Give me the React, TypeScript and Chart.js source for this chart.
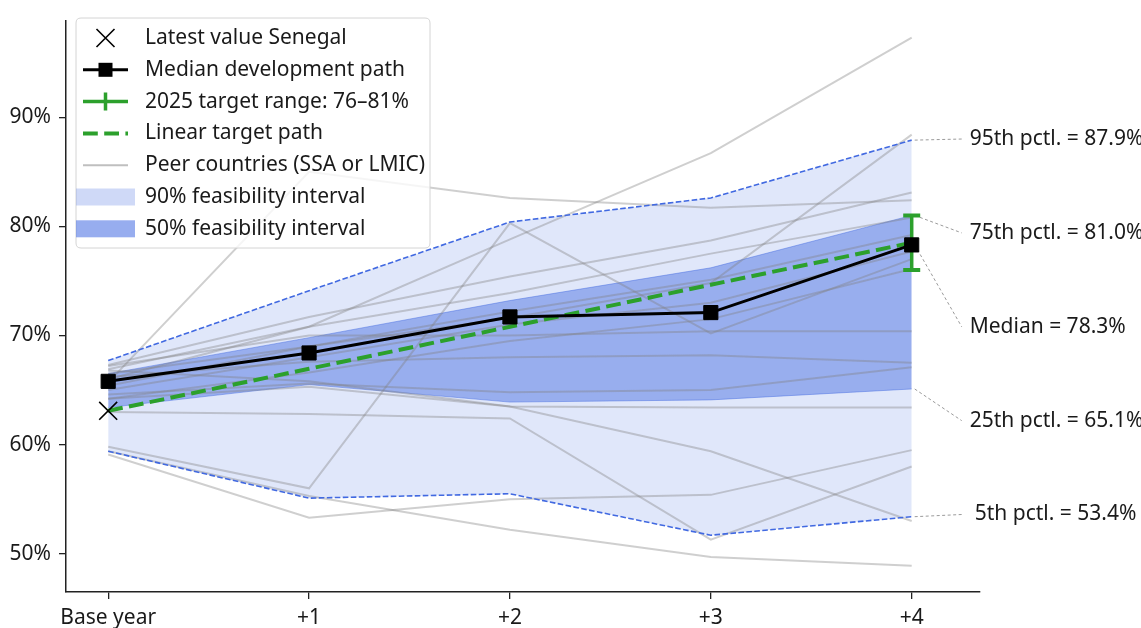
import React, { useEffect, useRef } from "react";
import { Chart, registerables } from "chart.js";

Chart.register(...registerables);

// ---------- data ----------
const xLabels = ["Base year", "+1", "+2", "+3", "+4"];
const yTicks = [50, 60, 70, 80, 90];

const median = [65.8, 68.4, 71.7, 72.1, 78.3];
const p95 = [67.7, 74.1, 80.4, 82.6, 87.9];
const p75 = [66.5, 69.8, 73.2, 76.2, 81.0];
const p25 = [63.4, 65.5, 63.9, 64.1, 65.1];
const p05 = [59.4, 55.1, 55.5, 51.7, 53.4];
const linearTarget = [63.1, 66.95, 70.8, 74.65, 78.5];
const latestValue = 63.1;
const targetRange = [76, 81];

const peerA = [66.0, 70.8, 78.8, 86.7, 97.3];
const peerB = [65.7, 85.0, 82.6, 81.7, 82.4];
const peerC = [59.8, 56.0, 80.3, 70.2, 77.0];
const peerD = [59.1, 53.3, 55.0, 55.4, 59.5];
const peerE = [59.4, 55.3, 52.2, 49.7, 48.9];
const peerF = [63.0, 62.8, 62.4, 51.3, 58.0];
const peerG = [66.8, 65.8, 63.5, 59.4, 53.0];
const peerH = [64.2, 65.3, 63.5, 63.4, 63.4];
const peerI = [67.2, 70.0, 70.0, 70.4, 70.4];
const peerJ = [66.2, 67.6, 68.0, 68.2, 67.5];
const peerK = [64.6, 65.6, 64.8, 65.0, 67.1];
const peerM = [66.5, 69.0, 71.6, 74.8, 88.4];
const peerN = [67.3, 71.7, 75.4, 78.7, 83.1];
const peerO = [66.9, 70.8, 73.9, 77.5, 80.8];
const peerP = [65.4, 69.0, 72.2, 75.1, 79.2];
const peerQ = [65.0, 68.0, 71.0, 73.0, 77.7];
const peerR = [64.2, 66.6, 69.5, 71.5, 76.1];
const peers = [peerA, peerB, peerC, peerD, peerE, peerF, peerG, peerH, peerI, peerJ, peerK, peerM, peerN, peerO, peerP, peerQ, peerR];

const annotationNames = ["95th pctl.", "75th pctl.", "Median", "25th pctl.", "5th pctl."];
const annotationValues = [87.9, 81.0, 78.3, 65.1, 53.4];

const legendLabels = [
  "Latest value Senegal",
  "Median development path",
  "2025 target range: 76\u201381%",
  "Linear target path",
  "Peer countries (SSA or LMIC)",
  "90% feasibility interval",
  "50% feasibility interval",
];

// ---------- styles ----------
const FONT = "'Noto Sans', 'Open Sans', sans-serif";
const FS = 21;
const TEXT = "#1a1a1a";
const BLUE = "rgb(65,105,225)";
const GREEN = "#2ca02c";
const PEER = "rgba(128,128,128,0.38)";
const BAND90 = "rgba(65,105,225,0.16)";
const BAND50 = "rgba(65,105,225,0.45)";
const BAND50_EDGE = "rgba(65,105,225,0.45)";

const X_MIN = -0.21, X_MAX = 4.34;
const Y_MIN = 46.5, Y_MAX = 98.85;

const pts = (arr: number[]) => arr.map((y, i) => ({ x: i, y }));

const leaderPlugin = {
  id: "leaders",
  beforeDatasetsDraw(chart: any) {
    const { ctx, scales } = chart;
    const xs = scales.x;
    const ys = scales.y;
    const px = xs.getPixelForValue(4);
    const top = ys.getPixelForValue(88.0);
    const bottom = ys.getPixelForValue(53.6);
    ctx.save();
    ctx.strokeStyle = "#9a9a9a";
    ctx.lineWidth = 1;
    ctx.setLineDash([3, 2.5]);
    annotationValues.forEach((v, i) => {
      const ly = top + ((bottom - top) * i) / (annotationValues.length - 1);
      ctx.beginPath();
      ctx.moveTo(px + 3, ys.getPixelForValue(v));
      ctx.lineTo(px + 50, ly);
      ctx.stroke();
    });
    ctx.restore();
  },
  afterDraw(chart: any) {
    const { ctx, scales } = chart;
    const xs = scales.x;
    const ys = scales.y;
    const px = xs.getPixelForValue(4);
    const top = ys.getPixelForValue(88.0);
    const bottom = ys.getPixelForValue(53.6);
    ctx.save();
    ctx.font = `${FS}px ${FONT}`;
    ctx.fillStyle = TEXT;
    ctx.textBaseline = "middle";
    ctx.textAlign = "left";
    annotationValues.forEach((v, i) => {
      const ly = top + ((bottom - top) * i) / (annotationValues.length - 1);
      const lx = px + 58 + (i === annotationValues.length - 1 ? 5 : 0);
      ctx.fillText(`${annotationNames[i]} = ${v.toFixed(1)}%`, lx, ly);
    });

    // ---- legend ----
    const bx = 76, by = 18, bw = 354, bh = 230, r = 5;
    ctx.beginPath();
    ctx.moveTo(bx + r, by);
    ctx.lineTo(bx + bw - r, by);
    ctx.quadraticCurveTo(bx + bw, by, bx + bw, by + r);
    ctx.lineTo(bx + bw, by + bh - r);
    ctx.quadraticCurveTo(bx + bw, by + bh, bx + bw - r, by + bh);
    ctx.lineTo(bx + r, by + bh);
    ctx.quadraticCurveTo(bx, by + bh, bx, by + bh - r);
    ctx.lineTo(bx, by + r);
    ctx.quadraticCurveTo(bx, by, bx + r, by);
    ctx.closePath();
    ctx.fillStyle = "rgba(255,255,255,0.8)";
    ctx.fill();
    ctx.strokeStyle = "#d4d4d4";
    ctx.lineWidth = 1;
    ctx.stroke();

    const hx0 = 83, hx1 = 128, hc = (hx0 + hx1) / 2;
    const rowY = (i: number) => by + 20 + i * 31.8;
    legendLabels.forEach((label, i) => {
      const y = rowY(i);
      ctx.save();
      ctx.setLineDash([]);
      if (i === 0) {
        ctx.strokeStyle = "#000";
        ctx.lineWidth = 1.6;
        ctx.beginPath();
        ctx.moveTo(hc - 9, y - 9); ctx.lineTo(hc + 9, y + 9);
        ctx.moveTo(hc + 9, y - 9); ctx.lineTo(hc - 9, y + 9);
        ctx.stroke();
      } else if (i === 1) {
        ctx.strokeStyle = "#000";
        ctx.lineWidth = 3;
        ctx.beginPath(); ctx.moveTo(hx0, y); ctx.lineTo(hx1, y); ctx.stroke();
        ctx.fillStyle = "#000";
        ctx.fillRect(hc - 7, y - 7, 14, 14);
      } else if (i === 2) {
        ctx.strokeStyle = GREEN;
        ctx.lineWidth = 3.5;
        ctx.beginPath(); ctx.moveTo(hx0, y); ctx.lineTo(hx1, y);
        ctx.moveTo(hc, y - 9); ctx.lineTo(hc, y + 9); ctx.stroke();
      } else if (i === 3) {
        ctx.strokeStyle = GREEN;
        ctx.lineWidth = 4;
        ctx.setLineDash([14.8, 6.4]);
        ctx.beginPath(); ctx.moveTo(hx0, y); ctx.lineTo(hx1, y); ctx.stroke();
      } else if (i === 4) {
        ctx.strokeStyle = "rgba(128,128,128,0.5)";
        ctx.lineWidth = 2;
        ctx.beginPath(); ctx.moveTo(hx0, y); ctx.lineTo(hx1, y); ctx.stroke();
      } else if (i === 5) {
        ctx.fillStyle = "rgba(65,105,225,0.25)";
        ctx.fillRect(76, y - 8.5, 59, 17);
      } else if (i === 6) {
        ctx.fillStyle = "rgba(65,105,225,0.55)";
        ctx.fillRect(76, y - 8.5, 59, 17);
      }
      ctx.restore();
      ctx.fillStyle = TEXT;
      ctx.fillText(label, 145, y);
    });
    ctx.restore();
  },
};

export default function App() {
  const ref = useRef<HTMLCanvasElement | null>(null);

  useEffect(() => {
    if (!ref.current) return;
    const datasets: any[] = [];
    datasets.push({
      label: "latest", data: [{ x: 0, y: latestValue }], showLine: false,
      pointStyle: "crossRot", pointRadius: 12.7, pointBorderWidth: 1.6,
      pointBorderColor: "#000", pointBackgroundColor: "#000", order: 0,
    });
    datasets.push({
      label: "median", data: pts(median), borderColor: "#000", borderWidth: 3,
      pointStyle: "rect", pointRadius: 10, pointBackgroundColor: "#000",
      pointBorderColor: "#000", pointBorderWidth: 1, order: 1,
    });
    datasets.push({
      label: "target", data: [{ x: 4, y: targetRange[0] }, { x: 4, y: targetRange[1] }],
      borderColor: GREEN, borderWidth: 3.5, pointStyle: "line", pointRadius: 8.5,
      pointBorderWidth: 4, pointBorderColor: GREEN, order: 2,
    });
    datasets.push({
      label: "linear", data: pts(linearTarget), borderColor: GREEN, borderWidth: 4,
      borderDash: [14.8, 6.4], pointRadius: 0, order: 3,
    });
    datasets.push({
      label: "p95line", data: pts(p95), borderColor: BLUE, borderWidth: 1.6,
      borderDash: [5.6, 2.4], pointRadius: 0, order: 4,
    });
    datasets.push({
      label: "p05line", data: pts(p05), borderColor: BLUE, borderWidth: 1.6,
      borderDash: [5.6, 2.4], pointRadius: 0, order: 4,
    });
    peers.forEach((p, i) => {
      datasets.push({
        label: "peer" + i, data: pts(p), borderColor: PEER, borderWidth: 2,
        pointRadius: 0, order: 5,
      });
    });
    const i95 = datasets.length;
    datasets.push({
      label: "band90top", data: pts(p95), borderWidth: 0, borderColor: "rgba(0,0,0,0)",
      pointRadius: 0, fill: { target: i95 + 1 }, backgroundColor: BAND90, order: 9,
    });
    datasets.push({
      label: "band90bot", data: pts(p05), borderWidth: 0, borderColor: "rgba(0,0,0,0)",
      pointRadius: 0, fill: false, order: 9,
    });
    const i75 = datasets.length;
    datasets.push({
      label: "band50top", data: pts(p75), borderWidth: 1, borderColor: BAND50_EDGE,
      pointRadius: 0, fill: { target: i75 + 1 }, backgroundColor: BAND50, order: 8,
    });
    datasets.push({
      label: "band50bot", data: pts(p25), borderWidth: 1, borderColor: BAND50_EDGE,
      pointRadius: 0, fill: false, order: 8,
    });

    const axisCommon = {
      grid: { display: true, drawOnChartArea: false, drawTicks: true, tickLength: 7, color: "#222", lineWidth: 1.3 },
      border: { display: true, color: "#222", width: 1.5 },
    };

    const chart = new Chart(ref.current, {
      type: "line",
      data: { datasets },
      options: {
        animation: false,
        responsive: false,
        events: [],
        elements: { line: { tension: 0 } },
        layout: { padding: { top: 8, right: 161, left: 0, bottom: 0 } },
        plugins: { legend: { display: false }, tooltip: { enabled: false } },
        scales: {
          x: {
            type: "linear", min: X_MIN, max: X_MAX, bounds: "data",
            afterBuildTicks: (s: any) => {
              s.ticks = xLabels.map((_, i) => ({ value: i }));
              s.min = X_MIN; s.max = X_MAX;
            },
            afterFit: (s: any) => { s.height = 36; s.paddingLeft = 0; s.paddingRight = 0; },
            ticks: {
              autoSkip: false, maxRotation: 0, padding: 6, color: TEXT,
              font: { family: FONT, size: FS },
              callback: (v: any) => xLabels[Math.round(v)] ?? "",
            },
            ...axisCommon,
          },
          y: {
            type: "linear", min: Y_MIN, max: Y_MAX, bounds: "data",
            afterBuildTicks: (s: any) => {
              s.ticks = yTicks.map((v) => ({ value: v }));
              s.min = Y_MIN; s.max = Y_MAX;
            },
            afterFit: (s: any) => { s.width = 66; },
            ticks: {
              padding: 8, color: TEXT, font: { family: FONT, size: FS },
              callback: (v: any) => `${v}%`,
            },
            ...axisCommon,
          },
        },
      } as any,
      plugins: [leaderPlugin],
    });
    return () => chart.destroy();
  }, []);

  return (
    <div style={{ position: "fixed", left: 0, top: 0, width: 1141, height: 628, background: "#fff" }}>
      <canvas ref={ref} width={1141} height={628} style={{ display: "block", width: 1141, height: 628 }} />
    </div>
  );
}
